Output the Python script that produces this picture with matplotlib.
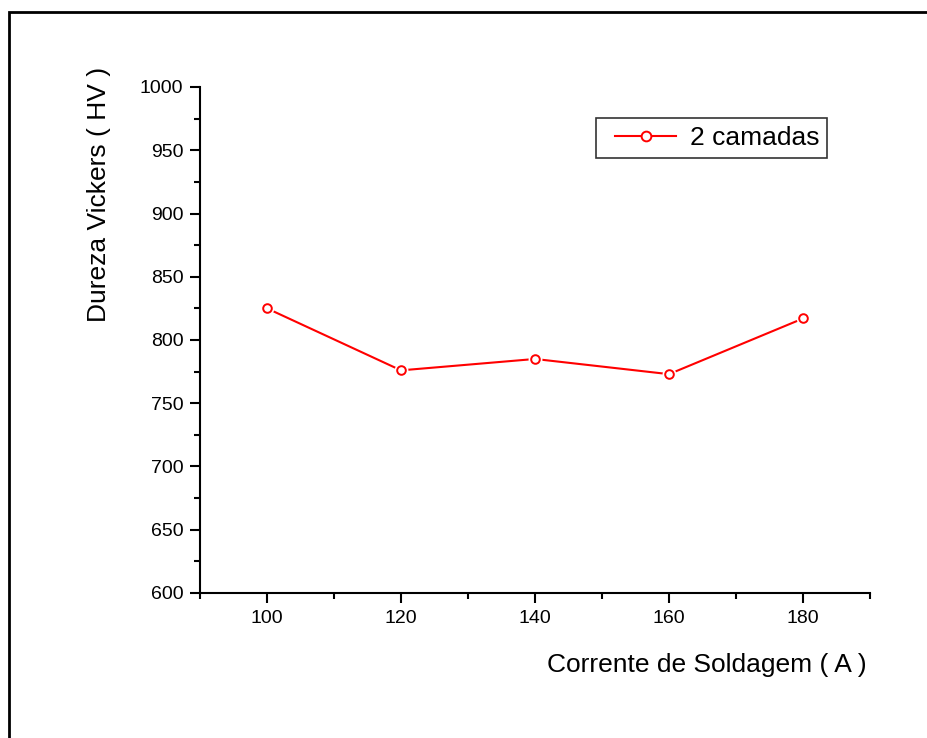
import matplotlib
matplotlib.use("Agg")
import matplotlib.pyplot as plt
from matplotlib.ticker import MultipleLocator
from matplotlib.patches import Rectangle
from matplotlib.lines import Line2D
from matplotlib.legend_handler import HandlerLine2D

plt.rcParams['font.family'] = ['Liberation Sans', 'DejaVu Sans']

corrente = [100, 120, 140, 160, 180]
dureza = [825, 776, 785, 773, 817]
serie_label = "2 camadas"
xlabel = "Corrente de Soldagem ( A )"
ylabel = "Dureza Vickers ( HV )"

fig = plt.figure(figsize=(9.28, 7.38), dpi=100)
ax = fig.add_axes([200/928, 145/738, 670/928, 506/738])

red = '#ff0000'
ax.plot(corrente, dureza, color=red, lw=1.5, zorder=2)
ax.plot(corrente, dureza, ls='none', marker='o', ms=10, mfc='white', mec='white', mew=0, zorder=3)
ax.plot(corrente, dureza, ls='none', marker='o', ms=6.2, mfc='white', mec=red, mew=1.4, zorder=4)

ax.set_xlim(90, 190)
ax.set_ylim(600, 1000)
ax.xaxis.set_major_locator(MultipleLocator(20))
ax.xaxis.set_minor_locator(MultipleLocator(10))
ax.yaxis.set_major_locator(MultipleLocator(50))
ax.yaxis.set_minor_locator(MultipleLocator(25))
ax.set_xticks([100, 120, 140, 160, 180])

for s in ['top', 'right']:
    ax.spines[s].set_visible(False)
for s in ['left', 'bottom']:
    ax.spines[s].set_linewidth(1.5)

ax.tick_params(which='major', direction='out', length=7, width=1.5, labelsize=14, pad=5)
ax.tick_params(which='minor', direction='out', length=4, width=1.5)

ax.set_ylabel(ylabel, fontsize=19)
ax.yaxis.set_label_coords(-89/670, (593 - 194)/506)
ax.set_xlabel(xlabel, fontsize=19)
ax.xaxis.set_label_coords(1.0 - 3/670, -60/506)
ax.xaxis.label.set_horizontalalignment('right')

# legend
h = Line2D([], [], color=red, lw=1.5, marker='o', ms=7, mfc='white', mec=red, mew=1.4)
leg = ax.legend([h], [serie_label], loc='upper left', bbox_to_anchor=(396/670, 1 - 31/506),
                fontsize=19, frameon=True, fancybox=False, edgecolor='black',
                handlelength=2.75, borderpad=0.3, handletextpad=0.5, borderaxespad=0,
                handler_map={Line2D: HandlerLine2D(xpad=0.42)})
leg.get_frame().set_linewidth(1.2)

# outer border
fig.patches.append(Rectangle((9/928, -0.1), 1.2, 1 - 12/738 + 0.1, transform=fig.transFigure,
                             fill=False, edgecolor='black', lw=2))

fig.savefig('out.png', dpi=100)
